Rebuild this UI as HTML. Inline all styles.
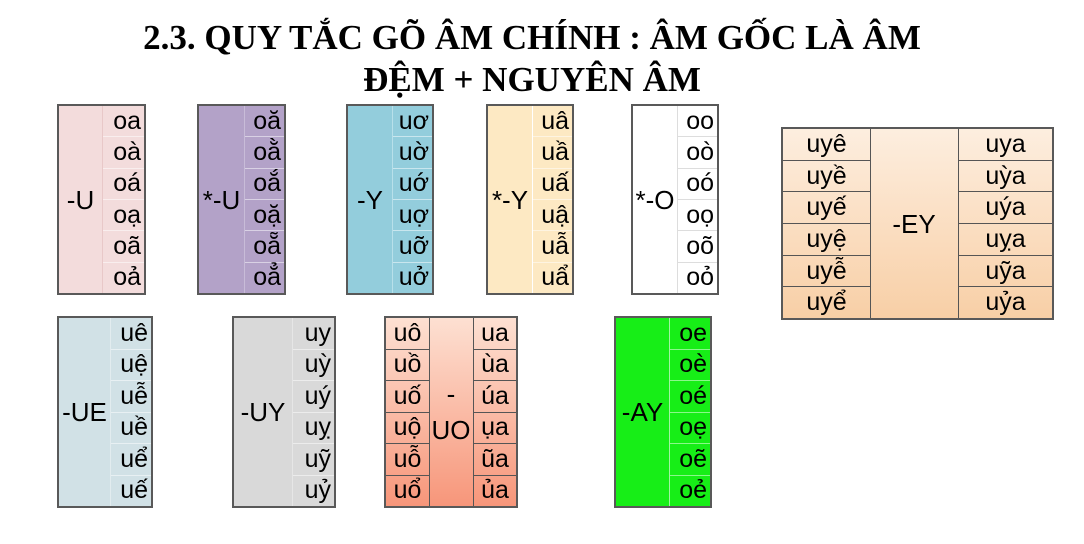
<!DOCTYPE html>
<html><head><meta charset="utf-8"><style>
body{margin:0;width:1084px;height:544px;background:#fff;position:relative;overflow:hidden;font-family:"Liberation Sans",sans-serif}
.t{position:absolute;left:0;width:1084px;text-align:center;font-family:"Liberation Serif",serif;font-weight:bold;font-size:35px;line-height:40px;color:#000;padding-right:20px;box-sizing:border-box}
.b{position:absolute;border:2px solid #595959;box-sizing:border-box}
.lab{position:absolute;top:0;bottom:0;display:flex;align-items:center;justify-content:center;font-size:26px;text-align:center;line-height:28px}
.col{position:absolute;top:0;bottom:0;display:flex;flex-direction:column}
.col div{flex:1;display:flex;align-items:center;justify-content:flex-end;padding-right:3px;font-size:25px;border-top:1px solid rgba(255,255,255,.5)}
.col div:first-child{border-top:none}
.col.d div{border-top:1.5px solid #555;justify-content:center;padding:0}
.col.d div:first-child{border-top:none}
</style></head><body>
<div class="t" style="top:18px">2.3. QUY TẮC GÕ ÂM CHÍNH : ÂM GỐC LÀ ÂM</div>
<div class="t" style="top:60px">ĐỆM + NGUYÊN ÂM</div>

<div class="b" style="left:57px;top:104px;width:89px;height:191px;background:#f3dcdc">
<div class="lab" style="left:0;width:43px">-U</div>
<div class="col" style="left:43px;right:0;border-left:1px solid #e8c8c8"><div>oa</div><div>oà</div><div>oá</div><div>oạ</div><div>oã</div><div>oả</div></div></div>

<div class="b" style="left:197px;top:104px;width:89px;height:191px;background:#b3a2c8">
<div class="lab" style="left:0;width:45px">*-U</div>
<div class="col" style="left:45px;right:0;border-left:1px solid #c8bcd8"><div>oă</div><div>oằ</div><div>oắ</div><div>oặ</div><div>oẵ</div><div>oẳ</div></div></div>

<div class="b" style="left:346px;top:104px;width:88px;height:191px;background:#93cddc">
<div class="lab" style="left:0;width:44px">-Y</div>
<div class="col" style="left:44px;right:0;border-left:1px solid #b8e0ea"><div>uơ</div><div>uờ</div><div>uớ</div><div>uợ</div><div>uỡ</div><div>uở</div></div></div>

<div class="b" style="left:486px;top:104px;width:88px;height:191px;background:#fde9c3">
<div class="lab" style="left:0;width:44px">*-Y</div>
<div class="col" style="left:44px;right:0;border-left:1px solid #fff"><div>uâ</div><div>uầ</div><div>uấ</div><div>uậ</div><div>uẫ</div><div>uẩ</div></div></div>

<div class="b" style="left:631px;top:104px;width:88px;height:191px;background:#fff">
<div class="lab" style="left:0;width:44px">*-O</div>
<div class="col" style="left:44px;right:0;border-left:1px solid #ddd"><div style="border-color:#ddd">oo</div><div style="border-color:#ddd">oò</div><div style="border-color:#ddd">oó</div><div style="border-color:#ddd">oọ</div><div style="border-color:#ddd">oõ</div><div style="border-color:#ddd">oỏ</div></div></div>

<div class="b" style="left:781px;top:127px;width:273px;height:193px;background:linear-gradient(#fdeedf,#f8cfa6)">
<div class="col d" style="left:0;width:87px;border-right:1.5px solid #555"><div>uyê</div><div>uyề</div><div>uyế</div><div>uyệ</div><div>uyễ</div><div>uyể</div></div>
<div class="lab" style="left:87px;width:88px">-EY</div>
<div class="col d" style="left:175px;right:0;border-left:1.5px solid #555"><div>uya</div><div>uỳa</div><div>uýa</div><div>uỵa</div><div>uỹa</div><div>uỷa</div></div></div>

<div class="b" style="left:57px;top:316px;width:96px;height:192px;background:#d1e1e6">
<div class="lab" style="left:0;width:51px">-UE</div>
<div class="col" style="left:51px;right:0;border-left:1px solid #e2ecef"><div>uê</div><div>uệ</div><div>uễ</div><div>uề</div><div>uể</div><div>uế</div></div></div>

<div class="b" style="left:232px;top:316px;width:104px;height:192px;background:#d9d9d9">
<div class="lab" style="left:0;width:58px">-UY</div>
<div class="col" style="left:58px;right:0;border-left:1px solid #e6e6e6"><div>uy</div><div>uỳ</div><div>uý</div><div>uỵ</div><div>uỹ</div><div>uỷ</div></div></div>

<div class="b" style="left:384px;top:316px;width:134px;height:192px;background:linear-gradient(#fde0d2,#f7967a)">
<div class="col d" style="left:0;width:43px;border-right:1.5px solid #555"><div>uô</div><div>uồ</div><div>uố</div><div>uộ</div><div>uỗ</div><div>uổ</div></div>
<div class="lab" style="left:43px;width:44px;line-height:36px">-<br>UO</div>
<div class="col d" style="left:87px;right:0;border-left:1.5px solid #555"><div>ua</div><div>ùa</div><div>úa</div><div>ụa</div><div>ũa</div><div>ủa</div></div></div>

<div class="b" style="left:614px;top:316px;width:98px;height:192px;background:#17ee17">
<div class="lab" style="left:0;width:53px">-AY</div>
<div class="col" style="left:53px;right:0;border-left:1px solid #a0f5a0"><div>oe</div><div>oè</div><div>oé</div><div>oẹ</div><div>oẽ</div><div>oẻ</div></div></div>
</body></html>
